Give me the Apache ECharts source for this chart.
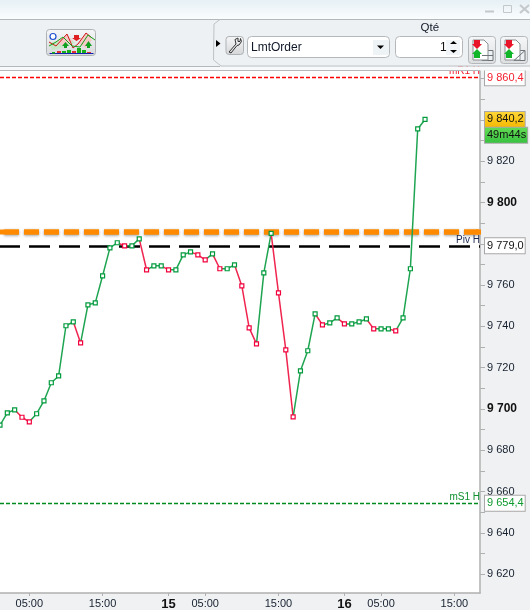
<!DOCTYPE html>
<html><head><meta charset="utf-8">
<style>html,body{margin:0;padding:0;background:#f0f1f3}#c{width:530px;height:610px}</style>
<script src="https://cdn.jsdelivr.net/npm/echarts@6/dist/echarts.min.js"></script>
</head><body><div id="c"></div>
<script>
// Hourly closes; index 23 is 00:00 on the 15th, index 47 is 00:00 on the 16th.
const closes = [9692.2,9698.1,9699.6,9696.0,9693.8,9697.7,9703.9,9712.7,9716.0,9740.3,9742.2,9732.0,9750.4,9751.4,9764.5,9778.0,9780.5,9779.0,9779.0,9782.4,9767.4,9769.3,9769.3,9767.4,
 9767.4,9774.6,9776.1,9774.6,9772.2,9775.1,9767.9,9767.9,9769.8,9759.6,9739.3,9731.5,9765.9,9785.0,9756.2,9728.6,9696.2,
 9718.5,9728.2,9746.1,9740.7,9741.7,9744.1,9741.2,9741.2,9742.2,9743.6,9738.8,9738.8,9738.8,9737.8,9744.1,9767.9,9835.6,9840.2];
const barColors = ["ggg","rr","gggggg","r","ggggg","r","gg","r","gg","r","ggg","rr","g","r","gg","rrr","gg","rrr","ggg","r","gg","r","ggg","r","gg","r","gggg"].join('').split('');
const xTickIndex = [4,14,23,28,38,47,52,62];
const xTickLabels = ['05:00','15:00','15','05:00','15:00','16','05:00','15:00'];
const yLabelValues = [9620,9640,9660,9680,9700,9720,9740,9760,9800,9820];
const yBoldValues = [9700,9800];
const yTickValues = [9620,9630,9640,9650,9660,9670,9680,9690,9700,9710,9720,9730,9740,9750,9760,9770,9780,9790,9800,9810,9820,9830,9840,9850,9860];
const levelR1 = 9860.4, levelPiv = 9779.0, levelS1 = 9654.4, levelOrange = 9785.6;
const lastPrice = 9840.2, timerAnchor = 9832.6;
const X_MAX = 65.5, Y_MIN = 9610.9, Y_MAX = 9863.9;

const GREEN='#009a3c', RED='#f2003c', GLINE='#1fa552', RLINE='#f0254f';
const fmt = v => { const s=v.toFixed(1).replace('.',','); return s.slice(0,1)+' '+s.slice(1); };

function runs(){
  const out=[]; let i=1;
  while(i<closes.length){
    const c=barColors[i]; let j=i;
    while(j+1<closes.length && barColors[j+1]===c) j++;
    out.push({c,from:i-1,to:j}); i=j+1;
  }
  return out;
}
const lineSeries = runs().map(r=>{
  const col=r.c==='g'?GREEN:RED, lc=r.c==='g'?GLINE:RLINE, data=[];
  for(let k=r.from;k<=r.to;k++){
    data.push({value:[k,closes[k]],symbol:(k===r.from&&k!==0)?'none':'rect'});
  }
  return {type:'line',data,symbol:'rect',symbolSize:4,showSymbol:true,showAllSymbol:true,z:10,clip:true,animation:false,silent:true,
    lineStyle:{color:lc,width:1.5},itemStyle:{color:'#fff',borderColor:col,borderWidth:1.2}};
});

const nameLabel=(t,c)=>({show:true,position:'insideEndTop',formatter:t,color:c,fontSize:10,fontFamily:'Liberation Sans',distance:[0,1],padding:0});
const level=(value,lineStyle,label)=>({type:'line',data:[],z:5,animation:false,silent:true,
  itemStyle:{color:lineStyle.color},
  markLine:{silent:true,symbol:'none',animation:false,z:5,lineStyle,label,data:[{yAxis:value}]}});
const levelSeries=[
  level(levelR1,{color:'#ff0000',width:1.4,type:[4,2],opacity:1},nameLabel('mR1 H','#f02030')),
  level(levelS1,{color:'#008a20',width:1.4,type:[4,2],opacity:1},nameLabel('mS1 H','#0f8f2f')),
  level(levelOrange,{color:'#ff8a00',width:5.5,type:[15,5],dashOffset:16,shadowBlur:3,shadowColor:'rgba(120,120,120,.7)',shadowOffsetY:1},{show:false}),
  level(levelPiv,{color:'#000',width:2.5,type:[21,9],dashOffset:1},nameLabel('Piv H','#1a2850'))
];
const box=(v,t,col,bg,coord)=>({coord:[X_MAX,coord===undefined?v:coord],symbol:'circle',symbolSize:0,
  label:{show:true,position:'right',distance:5,formatter:t,color:col,fontSize:11,fontFamily:'Liberation Sans',
    backgroundColor:bg,borderColor:'#a8a8a8',borderWidth:1,padding:[1,1,1,2],lineHeight:13}});
const boxSeries={type:'line',data:[],z:20,animation:false,silent:true,
  markPoint:{silent:true,animation:false,z:20,data:[
    box(levelR1,fmt(levelR1),'#f52030','#fff'),
    box(levelPiv,fmt(levelPiv),'#111','#fff'),
    box(levelS1,fmt(levelS1),'#0f9a2f','#fff'),
    box(lastPrice,fmt(lastPrice),'#111',{type:'linear',x:0,y:0,x2:0,y2:1,colorStops:[{offset:0,color:'#ffd83a'},{offset:1,color:'#f5b800'}]}),
    box(0,'49m44s','#111',{type:'linear',x:0,y:0,x2:0,y2:1,colorStops:[{offset:0,color:'#66dd55'},{offset:1,color:'#36c040'}]},timerAnchor)
  ]}};

// --- toolbar chrome ---
const G=[];
const rect=(x,y,w,h,fill,stroke,r,z)=>G.push({type:'rect',z:z||50,silent:true,shape:{x,y,width:w,height:h,r:r||0},style:{fill:fill||'transparent',stroke:stroke||null,lineWidth:1}});
const poly=(pts,stroke,w)=>G.push({type:'polyline',z:52,silent:true,shape:{points:pts},style:{stroke,lineWidth:w||1,fill:null}});
const pgon=(pts,fill)=>G.push({type:'polygon',z:52,silent:true,shape:{points:pts},style:{fill}});
const txt=(x,y,t,o)=>G.push({type:'text',z:53,silent:true,x,y,style:Object.assign({text:t,fill:'#111',font:'12px "Liberation Sans"',textVerticalAlign:'middle'},o||{})});
const grad=(a,b)=>({type:'linear',x:0,y:0,x2:0,y2:1,colorStops:[{offset:0,color:a},{offset:1,color:b}]});
rect(0,0,530,19.5,grad('#e6f0f5','#fbfdfe'));
rect(0,19.5,530,47,'#eef1f3');
rect(0,67,530,3.5,'#f8f9fa');
poly([[0,19.5],[530,19.5]],'#b5b8ba');
poly([[0,66.5],[220,66.5]],'#b5b8ba');
poly([[0,70.5],[480,70.5]],'#b5b8ba');
poly([[220,19.5],[214,24],[213.5,60],[221,66],[530,66]],'#c0c3c6');
poly([[485,11.5],[494,11.5]],'#c4c8cb',2);
rect(503.5,5.5,8,7,null,'#c4c8cb');
poly([[520,5],[529,13]],'#c4c8cb',2); poly([[529,5],[520,13]],'#c4c8cb',2);
rect(46.5,29.5,49,26,grad('#f6f7f8','#d6d8da'),'#aeb2b5',3);
pgon([[49,43],[57,41],[67,35],[75,43],[66,47],[52,50]],'#c7e8c7');
pgon([[57,41],[67,35],[73,41],[62,46]],'#f6c8c8');
pgon([[78,43],[86,33],[92,40],[86,48]],'#f6c8c8');
poly([[49,42],[56,46],[67,34],[73,48],[78,44],[86,33],[92,38]],'#d01818',1);
poly([[49,46],[56,42],[63,37],[72,46],[80,47],[88,35],[95,40]],'#18a018',1);
rect(49.5,53,44,1,'#1020b0');
[[52,52,3,1.5,'#18b018'],[57,51,4,2,'#e03030'],[62,51,4,2,'#18b018'],[67,50,4,3,'#18b018'],[72,51,4,2,'#e03030'],[77,48,4,5,'#18b018'],[82,50,4,3,'#18b018'],[87,52,4,1,'#e03030']].forEach(b=>rect(b[0],b[1],b[2],b[3],b[4]));
G.push({type:'circle',z:52,silent:true,shape:{cx:53,cy:36.5,r:3},style:{fill:'#fff',stroke:'#2050d0',lineWidth:1.2}});
pgon([[62,46],[65.5,42],[69,46],[67,46],[67,48],[64,48],[64,46]],'#10a020');
pgon([[85,46],[88.5,41],[92,46],[90,46],[90,48],[87,48],[87,46]],'#10a020');
pgon([[74,35],[79,35],[79,38],[81,38],[76.5,41],[72,38],[74,38]],'#e02020');
pgon([[216,40],[220.5,43.5],[216,47]],'#000');
rect(226,36.5,17.5,18,grad('#f6f7f8','#d4d6d8'),'#aeb2b5',3);
poly([[229,52],[236,44],[235,39.5],[238,38],[238,41.5],[240,41.5],[240.5,38.5],[241.5,41.5],[239,45],[237,45.5],[231,53],[229,52]],'#333',1);
rect(247.5,36.5,142,21,'#fff','#b5b8ba',4);
txt(251,47.5,'LmtOrder',{font:'12px "Liberation Sans"',fill:'#101828'});
rect(373,40,16,15,'#eef3f6');
pgon([[377,45.5],[384,45.5],[380.5,49]],'#000');
txt(420.5,28,'Qté',{font:'11.5px "Liberation Sans"',fill:'#101828'});
rect(395.5,36.5,67,21,'#fff','#b5b8ba',4);
txt(440,47.5,'1',{font:'12px "Liberation Sans"'});
rect(446,40,14,15,'#f2f5f7');
pgon([[450,44],[453.5,41],[457,44]],'#000'); pgon([[450,50],[457,50],[453.5,53]],'#000');
function orderBtn(x,kind){
  rect(x+.5,36.5,27,27,grad('#f6f7f8','#dcdee0'),'#b5b8ba',3);
  G.push({type:'polygon',z:52,silent:true,shape:{points:[[x+5,40],[x+16,40],[x+20,44],[x+20,60],[x+5,60]]},style:{fill:'#fff',stroke:'#8a8f93',lineWidth:1}});
  pgon([[x+6,40],[x+12,40],[x+12,44],[x+14,44],[x+9,49],[x+4,44],[x+6,44]],'#e8152a');
  pgon([[x+9,49],[x+14,54],[x+12,54],[x+12,58],[x+6,58],[x+6,54],[x+4,54]],'#10b528');
  rect(x+14,50.5,11,10,'#eef1f3','#6f7478');
  if(kind===0) poly([[x+14,55.5],[x+25,55.5]],'#6f7478'); else poly([[x+14,60.5],[x+25,50.5]],'#6f7478');
}
orderBtn(468,0); orderBtn(500,1);
rect(0,229.5,4,5,'#ff8a00',null,0,8);
rect(476,229.5,5,5,'#ff8a00',null,0,8);

const option={
  animation:false,backgroundColor:'#f0f1f3',
  grid:{left:0,right:50,top:70.5,bottom:17,show:true,backgroundColor:'#fff',borderWidth:0,outerBoundsMode:'none'},
  xAxis:{type:'value',min:0,max:X_MAX,splitLine:{show:false},
    axisLine:{show:true,lineStyle:{color:'#b0b0b0',width:1.5}},
    axisTick:{show:true,length:3,inside:false,customValues:xTickIndex,lineStyle:{color:'#b0b0b0'}},
    axisLabel:{customValues:xTickIndex,margin:5,hideOverlap:false,showMinLabel:true,showMaxLabel:true,
      fontFamily:'Liberation Sans',fontSize:11,color:'#15202e',
      formatter:v=>{const t=xTickLabels[xTickIndex.indexOf(v)];return t&&t.length===2?'{b|'+t+'}':t;},
      rich:{b:{fontWeight:'bold',fontSize:13,fontFamily:'Liberation Sans',color:'#111'}}}},
  yAxis:{type:'value',position:'right',min:Y_MIN,max:Y_MAX,splitLine:{show:false},
    axisLine:{show:true,onZero:false,lineStyle:{color:'#b0b0b0',width:1.5}},
    axisTick:{show:true,length:5,customValues:yTickValues,lineStyle:{color:'#b0b0b0'}},
    axisLabel:{customValues:yLabelValues,margin:7,fontFamily:'Liberation Sans',fontSize:11,color:'#15202e',
      formatter:v=>{const s=String(v),t=s[0]+' '+s.slice(1);return yBoldValues.includes(v)?'{b|'+t+'}':t;},
      rich:{b:{fontWeight:'bold',fontSize:12,fontFamily:'Liberation Sans',color:'#111'}}}},
  series:[...levelSeries,...lineSeries,boxSeries],
  graphic:G
};
const chart=echarts.init(document.getElementById('c'),null,{renderer:'canvas'});
chart.setOption(option);
</script></body></html>
